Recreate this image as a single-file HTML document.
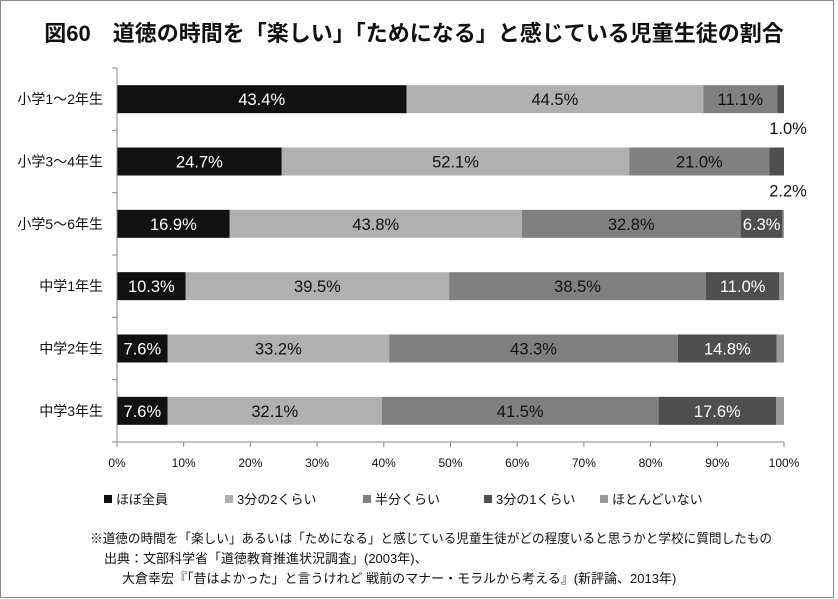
<!DOCTYPE html>
<html><head><meta charset="utf-8"><style>
body{margin:0;background:#fff;font-family:"Liberation Sans","Noto Sans CJK JP",sans-serif;}
#wrap{position:relative;width:838px;height:599px;overflow:hidden;}
</style></head><body>
<div id="wrap">
<svg id="svg" width="838" height="599" xmlns="http://www.w3.org/2000/svg">
<rect x="0.5" y="0.5" width="833" height="597" fill="#fff" stroke="#888"/>
<text x="414" y="41" text-anchor="middle" font-size="22" font-weight="bold" fill="#111" font-family="Liberation Sans, Noto Sans CJK JP, sans-serif">図60　道徳の時間を「楽しい」「ためになる」と感じている児童生徒の割合</text>
<g id="plot"></g>
<g font-size="13" fill="#111" font-family="Liberation Sans, Noto Sans CJK JP, sans-serif">
<text x="90" y="543" textLength="682" lengthAdjust="spacingAndGlyphs">※道徳の時間を「楽しい」あるいは「ためになる」と感じている児童生徒がどの程度いると思うかと学校に質問したもの</text>
<text x="104" y="563">出典：文部科学省「道徳教育推進状況調査」(2003年)、</text>
<text x="122" y="583">大倉幸宏『「昔はよかった」と言うけれど 戦前のマナー・モラルから考える』(新評論、2013年)</text>
</g>
</svg>
</div>
<script>
const categories=["小学1～2年生","小学3～4年生","小学5～6年生","中学1年生","中学2年生","中学3年生"];
const seriesNames=["ほぼ全員","3分の2くらい","半分くらい","3分の1くらい","ほとんどいない"];
const sAll=[43.4,24.7,16.9,10.3,7.6,7.6];
const sTwoThirds=[44.5,52.1,43.8,39.5,33.2,32.1];
const sHalf=[11.1,21.0,32.8,38.5,43.3,41.5];
const sOneThird=[1.0,2.2,6.3,11.0,14.8,17.6];
const sNone=[0.0,0.0,0.2,0.7,1.1,1.2];
const ticks=[0,10,20,30,40,50,60,70,80,90,100];
const series=[sAll,sTwoThirds,sHalf,sOneThird,sNone];
const colors=["#111111","#b0b0b0","#808080","#4f4f4f","#9a9a9a"];
const textColors=["#fff","#111","#111","#fff","#111"];
const X0=117,X1=784,Y0=68,Y1=442;
const x=v=>X0+(X1-X0)*v/100;
const band=(Y1-Y0)/categories.length;
const yc=i=>Y0+band*(i+0.5);
const NS="http://www.w3.org/2000/svg";
const g=document.getElementById('plot');
function mk(t,a){const e=document.createElementNS(NS,t);for(const k in a)e.setAttribute(k,a[k]);g.appendChild(e);return e;}
const FF="Liberation Sans, Noto Sans CJK JP, sans-serif";
categories.forEach((c,i)=>{
  let acc=0;
  series.forEach((s,j)=>{
    const v=s[i];
    const r=mk('rect',{x:x(acc),y:yc(i)-14,width:Math.max(0,x(acc+v)-x(acc)),height:28,fill:colors[j]});
    
    
    if(j<4&&v>0){
      const small=(x(acc+v)-x(acc))<30;
      const t=mk('text',{x:small?x(acc+v)+4:(x(acc)+x(acc+v))/2,y:small?yc(i)+35:yc(i)+6,'text-anchor':'middle','font-size':16.5,fill:small?'#111':textColors[j],'font-family':FF});
      t.textContent=v.toFixed(1)+'%';
      
      
    }
    acc+=v;
  });
  const cl=mk('text',{x:103,y:yc(i)+5,'text-anchor':'end','font-size':14,fill:'#111','font-family':FF});
  cl.textContent=c;
  
  
});
const ax=mk('line',{x1:X0,y1:Y0,x2:X0,y2:Y1,stroke:'#888'});


for(let i=0;i<=categories.length;i++){
  const tk=mk('line',{x1:X0-5,y1:Y0+band*i,x2:X0,y2:Y0+band*i,stroke:'#888'});
  
  
}
const bx=mk('line',{x1:X0,y1:Y1,x2:X1,y2:Y1,stroke:'#888'});


ticks.forEach(t=>{
  const l=mk('line',{x1:x(t),y1:Y1,x2:x(t),y2:Y1+5,stroke:'#888'});
  
  
  const tx=mk('text',{x:x(t),y:Y1+25,'text-anchor':'middle','font-size':12,fill:'#111','font-family':FF});
  tx.textContent=t+'%';
  
  
});
const lx=[104,225,363,484,600];
seriesNames.forEach((n,j)=>{
  const r=mk('rect',{x:lx[j],y:495,width:8,height:8,fill:colors[j]});
  
  
  const t=mk('text',{x:lx[j]+12,y:504,'font-size':13,fill:'#111','font-family':FF});
  t.textContent=n;
  
  
});
</script>
</body></html>
